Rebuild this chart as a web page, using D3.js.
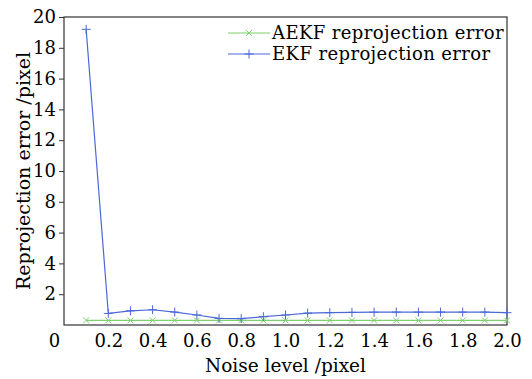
<!DOCTYPE html>
<html>
<head>
<meta charset="utf-8">
<script src="https://cdn.jsdelivr.net/npm/d3@7"></script>
<style>
  body { margin: 0; background: #fff; }
  text { font-family: "DejaVu Serif", "Liberation Serif", serif; fill: #000; }
</style>
</head>
<body>
<svg id="Diagram"></svg>
<script>
var noise = [0.1, 0.2, 0.3, 0.4, 0.5, 0.6, 0.7, 0.8, 0.9, 1.0, 1.1, 1.2, 1.3, 1.4, 1.5, 1.6, 1.7, 1.8, 1.9, 2.0];
var aekf = [0.3, 0.3, 0.3, 0.3, 0.3, 0.3, 0.3, 0.3, 0.3, 0.3, 0.3, 0.3, 0.3, 0.3, 0.3, 0.3, 0.3, 0.3, 0.3, 0.3];
var ekf = [19.2, 0.75, 0.92, 0.99, 0.84, 0.65, 0.43, 0.41, 0.54, 0.65, 0.77, 0.8, 0.82, 0.83, 0.84, 0.84, 0.84, 0.84, 0.84, 0.8];
var xTicks = [0, 0.2, 0.4, 0.6, 0.8, 1.0, 1.2, 1.4, 1.6, 1.8, 2.0];
var yTicks = [2, 4, 6, 8, 10, 12, 14, 16, 18, 20];
var seriesNames = ["AEKF reprojection error", "EKF reprojection error"];

var W = 532, H = 379;
var margin = {"left": 64, "right": 25, "top": 17, "bottom": 54};
var width = W - margin.left - margin.right, height = H - margin.top - margin.bottom;
var green = "#7fd06e", blue = "#4a68d8";

var svg = d3.select("#Diagram").attr("width", W).attr("height", H)
  .append("g")
  .attr("transform", "translate(" + margin.left + "," + margin.top + ")");

var x = d3.scaleLinear().domain([0, 2]).range([0, width]);
var y = d3.scaleLinear().domain([0, 20]).range([height, 0]);

// axes
var xAxis = svg.append("g")
  .attr("transform", "translate(0," + height + ")")
  .call(d3.axisBottom(x).tickValues(xTicks).tickSize(0).tickPadding(9)
    .tickFormat(function(d) { return d === 0 ? "0" : d.toFixed(1); }));
xAxis.selectAll("text").style("font-size", "18px");
xAxis.selectAll(".tick").filter(function(d) { return d === 0; }).select("text").attr("dx", -10);

var yAxis = svg.append("g")
  .call(d3.axisLeft(y).tickValues(yTicks).tickSize(5).tickPadding(3));
yAxis.selectAll("text").style("font-size", "18px");

svg.selectAll(".domain").remove();
svg.selectAll(".tick line").attr("stroke", "#333");

// frame
svg.append("rect").attr("width", width).attr("height", height)
  .attr("fill", "none").attr("stroke", "#333").attr("stroke-width", 1.2);

var line = d3.line().x(function(d) { return x(d[0]); }).y(function(d) { return y(d[1]); });
var aekfPts = noise.map(function(n, i) { return [n, aekf[i]]; });
var ekfPts = noise.map(function(n, i) { return [n, ekf[i]]; });

function plus(g, cx, cy, s, c) {
  g.append("path").attr("d", "M" + (cx - s) + "," + cy + "H" + (cx + s) + "M" + cx + "," + (cy - s) + "V" + (cy + s))
    .attr("stroke", c).attr("stroke-width", 1);
}
function cross(g, cx, cy, s, c) {
  g.append("path").attr("d", "M" + (cx - s) + "," + (cy - s) + "L" + (cx + s) + "," + (cy + s) + "M" + (cx - s) + "," + (cy + s) + "L" + (cx + s) + "," + (cy - s))
    .attr("stroke", c).attr("stroke-width", 1);
}

svg.append("path").datum(aekfPts).attr("d", line).attr("fill", "none").attr("stroke", green).attr("stroke-width", 1.2);
var gA = svg.append("g");
aekfPts.forEach(function(p) { cross(gA, x(p[0]), y(p[1]), 3, green); });

svg.append("path").datum(ekfPts).attr("d", line).attr("fill", "none").attr("stroke", blue).attr("stroke-width", 1.2);
var gE = svg.append("g");
ekfPts.forEach(function(p) { plus(gE, x(p[0]), y(p[1]), 4.5, blue); });

// legend
var leg = svg.append("g").attr("transform", "translate(" + (228 - margin.left) + "," + (33 - margin.top) + ")");
[[green, cross, 3], [blue, plus, 4.5]].forEach(function(s, i) {
  var gy = i * 21;
  leg.append("line").attr("x1", 0).attr("x2", 42).attr("y1", gy).attr("y2", gy)
    .attr("stroke", s[0]).attr("stroke-width", 1.2);
  s[1](leg, 21, gy, s[2], s[0]);
  leg.append("text").attr("x", 44).attr("y", gy).attr("dy", "0.35em")
    .style("font-size", "18px").style("letter-spacing", "0.4px").text(seriesNames[i]);
});

// axis titles
svg.append("text").attr("x", width / 2).attr("y", height + 47)
  .attr("text-anchor", "middle").style("font-size", "18.5px").text("Noise level /pixel");
svg.append("text").attr("transform", "rotate(-90)")
  .attr("x", -height / 2).attr("y", -34)
  .attr("text-anchor", "middle").style("font-size", "19px").text("Reprojection error /pixel");
</script>
</body>
</html>
